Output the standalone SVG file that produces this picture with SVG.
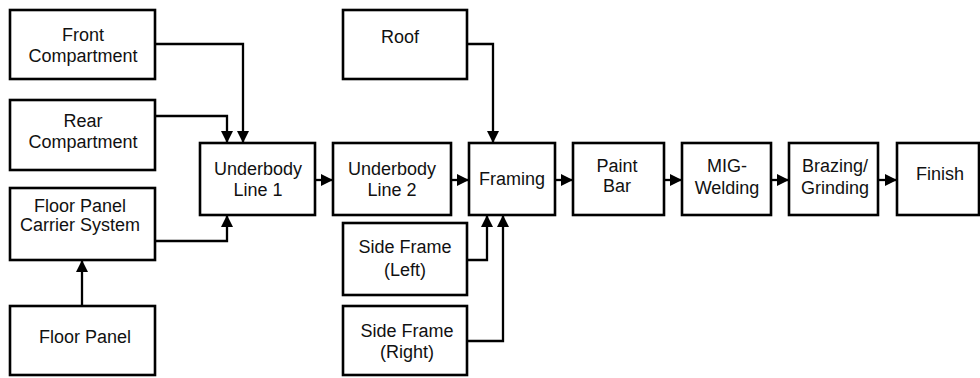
<svg xmlns="http://www.w3.org/2000/svg" width="980" height="378" viewBox="0 0 980 378">
  <style>
    .box { fill: #ffffff; stroke: #000000; stroke-width: 2.6; }
    .lbl { font-family: "Liberation Sans", Arial, sans-serif; font-size: 18px; fill: #111111; text-anchor: middle; }
    .wire { fill: none; stroke: #000000; stroke-width: 2.3; marker-end: url(#head); }
  </style>
  <defs>
    <marker id="head" markerUnits="userSpaceOnUse" markerWidth="13" markerHeight="13" viewBox="0 0 13 13" refX="12" refY="6.5" orient="auto">
      <path d="M0,0.5 L12,6.5 L0,12.5 Z" fill="#000000"/>
    </marker>
  </defs>
  <rect width="980" height="378" fill="#ffffff"/>

  <g id="connectors">
    <path class="wire" d="M156,44 H243 V143"/>
    <path class="wire" d="M156,116 H227 V143"/>
    <path class="wire" d="M156,241 H227 V215"/>
    <path class="wire" d="M82,306 V260"/>
    <path class="wire" d="M315,180 H333"/>
    <path class="wire" d="M451,180 H469"/>
    <path class="wire" d="M467,44 H493 V143"/>
    <path class="wire" d="M467,260 H487 V215"/>
    <path class="wire" d="M467,341 H503 V215"/>
    <path class="wire" d="M555,180 H573"/>
    <path class="wire" d="M664,180 H682"/>
    <path class="wire" d="M771,180 H789"/>
    <path class="wire" d="M878,180 H897"/>
  </g>

  <g id="front-compartment">
    <rect class="box" x="10" y="10" width="145" height="69"/>
    <text class="lbl" x="83" y="41">Front</text>
    <text class="lbl" x="83" y="62">Compartment</text>
  </g>
  <g id="rear-compartment">
    <rect class="box" x="10" y="100" width="145" height="70"/>
    <text class="lbl" x="83" y="127">Rear</text>
    <text class="lbl" x="83" y="148">Compartment</text>
  </g>
  <g id="floor-panel-carrier">
    <rect class="box" x="10" y="188" width="145" height="72"/>
    <text class="lbl" x="80" y="212">Floor Panel</text>
    <text class="lbl" x="80" y="231">Carrier System</text>
  </g>
  <g id="floor-panel">
    <rect class="box" x="10" y="306" width="145" height="69"/>
    <text class="lbl" x="85" y="343">Floor Panel</text>
  </g>
  <g id="underbody-line-1">
    <rect class="box" x="200" y="143" width="115" height="72"/>
    <text class="lbl" x="258" y="175">Underbody</text>
    <text class="lbl" x="258" y="196">Line 1</text>
  </g>
  <g id="underbody-line-2">
    <rect class="box" x="333" y="143" width="118" height="72"/>
    <text class="lbl" x="392" y="175">Underbody</text>
    <text class="lbl" x="392" y="196">Line 2</text>
  </g>
  <g id="roof">
    <rect class="box" x="343" y="10" width="124" height="69"/>
    <text class="lbl" x="400" y="43">Roof</text>
  </g>
  <g id="side-frame-left">
    <rect class="box" x="343" y="223" width="124" height="72"/>
    <text class="lbl" x="405" y="253">Side Frame</text>
    <text class="lbl" x="405" y="276">(Left)</text>
  </g>
  <g id="side-frame-right">
    <rect class="box" x="343" y="306" width="124" height="69"/>
    <text class="lbl" x="407" y="337">Side Frame</text>
    <text class="lbl" x="407" y="358">(Right)</text>
  </g>
  <g id="framing">
    <rect class="box" x="469" y="143" width="86" height="72"/>
    <text class="lbl" x="512" y="185">Framing</text>
  </g>
  <g id="paint-bar">
    <rect class="box" x="573" y="143" width="91" height="72"/>
    <text class="lbl" x="617" y="172">Paint</text>
    <text class="lbl" x="617" y="192">Bar</text>
  </g>
  <g id="mig-welding">
    <rect class="box" x="682" y="143" width="89" height="72"/>
    <text class="lbl" x="727" y="172">MIG-</text>
    <text class="lbl" x="727" y="194">Welding</text>
  </g>
  <g id="brazing-grinding">
    <rect class="box" x="789" y="143" width="89" height="72"/>
    <text class="lbl" x="835" y="172">Brazing/</text>
    <text class="lbl" x="835" y="194">Grinding</text>
  </g>
  <g id="finish">
    <rect class="box" x="897" y="143" width="82" height="72"/>
    <text class="lbl" x="940" y="180">Finish</text>
  </g>
</svg>
